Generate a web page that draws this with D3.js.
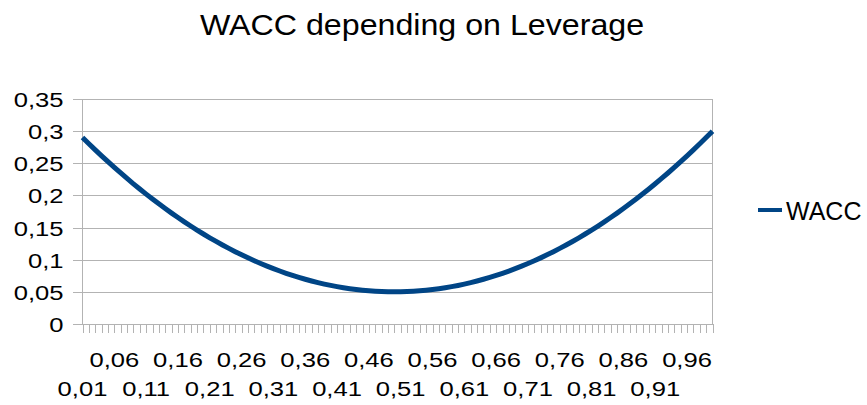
<!DOCTYPE html>
<html>
<head>
<meta charset="utf-8">
<script src="https://cdn.jsdelivr.net/npm/d3@7/dist/d3.min.js"></script>
<style>
  html, body { margin: 0; padding: 0; background: #ffffff; }
  svg { display: block; }
  text { font-family: "Liberation Sans", Arial, sans-serif; fill: #000000; }
</style>
</head>
<body>
<svg id="chart" width="867" height="405"></svg>
<script>
// Leverage (debt ratio) categories
const leverage = [
  0.01, 0.02, 0.03, 0.04, 0.05, 0.06, 0.07, 0.08, 0.09, 0.10,
  0.11, 0.12, 0.13, 0.14, 0.15, 0.16, 0.17, 0.18, 0.19, 0.20,
  0.21, 0.22, 0.23, 0.24, 0.25, 0.26, 0.27, 0.28, 0.29, 0.30,
  0.31, 0.32, 0.33, 0.34, 0.35, 0.36, 0.37, 0.38, 0.39, 0.40,
  0.41, 0.42, 0.43, 0.44, 0.45, 0.46, 0.47, 0.48, 0.49, 0.50,
  0.51, 0.52, 0.53, 0.54, 0.55, 0.56, 0.57, 0.58, 0.59, 0.60,
  0.61, 0.62, 0.63, 0.64, 0.65, 0.66, 0.67, 0.68, 0.69, 0.70,
  0.71, 0.72, 0.73, 0.74, 0.75, 0.76, 0.77, 0.78, 0.79, 0.80,
  0.81, 0.82, 0.83, 0.84, 0.85, 0.86, 0.87, 0.88, 0.89, 0.90,
  0.91, 0.92, 0.93, 0.94, 0.95, 0.96, 0.97, 0.98, 0.99, 1.00
];

// WACC for each leverage level
const wacc = [
  0.2901, 0.2804, 0.2709, 0.2616, 0.2525, 0.2436, 0.2349, 0.2264, 0.2181, 0.2100,
  0.2021, 0.1944, 0.1869, 0.1796, 0.1725, 0.1656, 0.1589, 0.1524, 0.1461, 0.1400,
  0.1341, 0.1284, 0.1229, 0.1176, 0.1125, 0.1076, 0.1029, 0.0984, 0.0941, 0.0900,
  0.0861, 0.0824, 0.0789, 0.0756, 0.0725, 0.0696, 0.0669, 0.0644, 0.0621, 0.0600,
  0.0581, 0.0564, 0.0549, 0.0536, 0.0525, 0.0516, 0.0509, 0.0504, 0.0501, 0.0500,
  0.0501, 0.0504, 0.0509, 0.0516, 0.0525, 0.0536, 0.0549, 0.0564, 0.0581, 0.0600,
  0.0621, 0.0644, 0.0669, 0.0696, 0.0725, 0.0756, 0.0789, 0.0824, 0.0861, 0.0900,
  0.0941, 0.0984, 0.1029, 0.1076, 0.1125, 0.1176, 0.1229, 0.1284, 0.1341, 0.1400,
  0.1461, 0.1524, 0.1589, 0.1656, 0.1725, 0.1796, 0.1869, 0.1944, 0.2021, 0.2100,
  0.2181, 0.2264, 0.2349, 0.2436, 0.2525, 0.2616, 0.2709, 0.2804, 0.2901, 0.3000
];

// Value axis ticks
const yTicks = [0, 0.05, 0.1, 0.15, 0.2, 0.25, 0.3, 0.35];

const seriesName = "WACC";
const chartTitle = "WACC depending on Leverage";

// Decimal comma formatting
const locale = d3.formatLocale({ decimal: ",", thousands: ".", grouping: [3], currency: ["", ""] });
const fmt = v => locale.format("~r")(+v.toFixed(4));

const svg = d3.select("#chart");
const plot = { left: 82.5, right: 712.5, top: 99, bottom: 324 };
const gridColor = "#b3b3b3";
const lineColor = "#004586";
const axisStretch = 1.22;   // wide glyphs of the axis labels
const titleStretch = 1.11;

const x = d3.scalePoint().domain(leverage).range([plot.left, plot.right]);
const y = d3.scaleLinear().domain([0, 0.35]).range([plot.bottom, plot.top]);

// Title
svg.append("text")
  .attr("transform", `translate(422,35) scale(${titleStretch},1)`)
  .attr("text-anchor", "middle")
  .style("font-size", "29px")
  .text(chartTitle);

// Horizontal gridlines with outer ticks and labels
const yAxis = d3.axisLeft(y).tickValues(yTicks)
  .tickSize(-(plot.right - plot.left)).tickSizeOuter(0)
  .tickPadding(0).tickFormat(fmt);
const gy = svg.append("g").attr("transform", `translate(${plot.left},0)`).call(yAxis);
gy.select(".domain").remove();
gy.selectAll(".tick line").attr("stroke", gridColor).attr("x1", -10).attr("shape-rendering", "crispEdges");
gy.selectAll(".tick text")
  .attr("x", 0).attr("dy", "0.36em")
  .attr("transform", `translate(-19,0) scale(${axisStretch},1)`)
  .style("font-size", "21px").style("font-family", "Liberation Sans, Arial, sans-serif");

// Vertical frame edges
svg.append("line").attr("x1", plot.left).attr("x2", plot.left)
  .attr("y1", plot.top).attr("y2", plot.bottom)
  .attr("stroke", gridColor).attr("shape-rendering", "crispEdges");
svg.append("line").attr("x1", plot.right).attr("x2", plot.right)
  .attr("y1", plot.top).attr("y2", plot.bottom)
  .attr("stroke", gridColor).attr("shape-rendering", "crispEdges");

// Category axis: a tick per category, labels every fifth in two staggered rows
const xAxis = d3.axisBottom(x).tickSize(9).tickSizeOuter(0).tickFormat("");
const gx = svg.append("g").attr("transform", `translate(0,${plot.bottom})`).call(xAxis);
gx.select(".domain").attr("stroke", gridColor).attr("shape-rendering", "crispEdges");
gx.selectAll(".tick line").attr("stroke", gridColor).attr("shape-rendering", "crispEdges");

const labelled = leverage.filter((d, i) => i % 5 === 0 && i + 2 < leverage.length);
svg.append("g").selectAll("text")
  .data(labelled)
  .join("text")
  .attr("transform", (d, i) => `translate(${x(d)},${i % 2 === 0 ? 396 : 366.5}) scale(${axisStretch},1)`)
  .attr("text-anchor", "middle")
  .style("font-size", "21px")
  .text(d => fmt(d));

// WACC line
const line = d3.line()
  .x((d, i) => x(leverage[i]))
  .y(d => y(d));
svg.append("path")
  .datum(wacc)
  .attr("fill", "none")
  .attr("stroke", lineColor)
  .attr("stroke-width", 5)
  .attr("stroke-linejoin", "round")
  .attr("d", line);

// Legend
const lg = svg.append("g").attr("transform", "translate(758,210)");
lg.append("line").attr("x1", 0).attr("x2", 24).attr("y1", 0).attr("y2", 0)
  .attr("stroke", lineColor).attr("stroke-width", 4);
lg.append("text").attr("x", 28).attr("y", 9.5)
  .style("font-size", "25px")
  .text(seriesName);
</script>
</body>
</html>
